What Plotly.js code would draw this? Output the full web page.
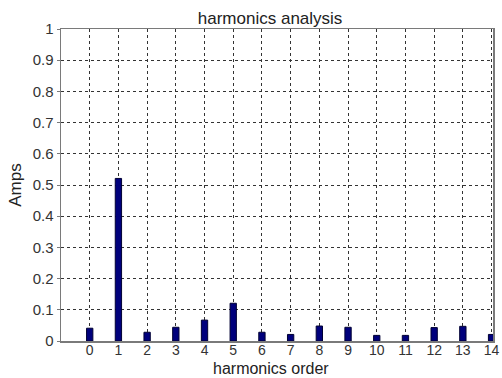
<!DOCTYPE html>
<html>
<head>
<meta charset="utf-8">
<script src="https://cdn.plot.ly/plotly-3.0.1.min.js"></script>
<style>
  html, body { margin: 0; padding: 0; background: #ffffff; }
  #chart { width: 502px; height: 378px; }
</style>
</head>
<body>
<div id="chart"></div>
<script>
// Harmonic orders and their current amplitudes (A)
const harmonicOrder = [0, 1, 2, 3, 4, 5, 6, 7, 8, 9, 10, 11, 12, 13, 14];
const amplitude = [0.041, 0.521, 0.028, 0.044, 0.067, 0.121, 0.028, 0.021, 0.048, 0.044, 0.018, 0.018, 0.043, 0.047, 0.021];
const yTicks = [0, 0.1, 0.2, 0.3, 0.4, 0.5, 0.6, 0.7, 0.8, 0.9, 1];
const yTickText = ['0', '0.1', '0.2', '0.3', '0.4', '0.5', '0.6', '0.7', '0.8', '0.9', '1'];

const font = 'Liberation Sans, Arial, Helvetica, sans-serif';

const trace = {
  type: 'bar',
  x: harmonicOrder,
  y: amplitude,
  width: 0.22,
  marker: { color: '#00007c', line: { color: '#000033', width: 1 } },
  hoverinfo: 'x+y'
};

const axisCommon = {
  showline: true,
  mirror: true,
  linecolor: '#7a7a7a',
  linewidth: 1.5,
  showgrid: true,
  gridcolor: '#333333',
  gridwidth: 1,
  griddash: 'dot',
  zeroline: false,
  tickcolor: '#7a7a7a',
  tickfont: { family: font, size: 15, color: '#333333' }
};

const layout = {
  width: 502,
  height: 378,
  margin: { l: 61, r: 9, t: 29, b: 37 },
  paper_bgcolor: '#ffffff',
  plot_bgcolor: '#ffffff',
  showlegend: false,
  bargap: 0,
  title: {
    text: 'harmonics analysis',
    font: { family: font, size: 17, color: '#222222' },
    x: 0.538, xanchor: 'center',
    y: 0.952, yanchor: 'middle'
  },
  xaxis: Object.assign({}, axisCommon, {
    range: [-1, 14.05],
    ticks: '',
    ticklabelstandoff: -4,
    tickmode: 'array',
    tickvals: harmonicOrder,
    ticktext: harmonicOrder.map(String),
    tickfont: { family: font, size: 14, color: '#333333' }
  }),
  yaxis: Object.assign({}, axisCommon, {
    range: [0, 1],
    ticks: 'outside',
    ticklen: 3,
    tickmode: 'array',
    tickvals: yTicks,
    ticktext: yTickText,
    title: {
      text: 'Amps',
      font: { family: font, size: 17, color: '#222222' },
      standoff: 6
    }
  }),
  annotations: [{
    text: 'harmonics order',
    xref: 'paper', yref: 'paper',
    x: 0.485, xanchor: 'center',
    y: -0.118, yanchor: 'bottom',
    showarrow: false,
    borderpad: 0,
    font: { family: font, size: 16, color: '#222222' }
  }]
};

Plotly.newPlot('chart', [trace], layout, { staticPlot: true, displayModeBar: false });
</script>
</body>
</html>
